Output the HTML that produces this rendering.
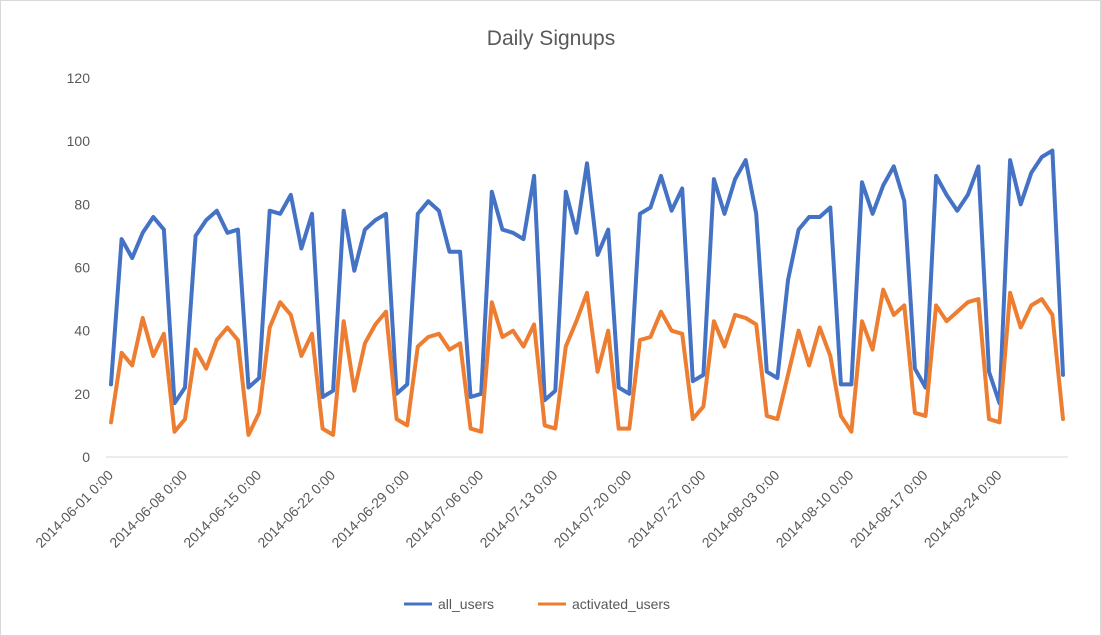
<!DOCTYPE html>
<html><head><meta charset="utf-8"><style>
body{margin:0;background:#fff;}
svg{display:block;font-family:"Liberation Sans",Calibri,sans-serif;}
</style></head><body>
<svg id="chart" width="1101" height="636">
<rect x="0.5" y="0.5" width="1100" height="635" fill="#fff" stroke="#d9d9d9"/>
<text x="551" y="45" text-anchor="middle" font-size="21" fill="#595959">Daily Signups</text>
<g id="grid"></g><g id="xlabels"></g><g id="series"></g>
<g>
<g><line x1="404" y1="604" x2="432" y2="604" stroke="#4472C4" stroke-width="3"/><text x="438" y="609" font-size="14" fill="#595959">all_users</text></g>
<g><line x1="538" y1="604" x2="566" y2="604" stroke="#ED7D31" stroke-width="3"/><text x="572" y="609" font-size="14" fill="#595959">activated_users</text></g>
</g>
</svg>
<script>
const allUsers=[23,69,63,71,76,72,17,22,70,75,78,71,72,22,25,78,77,83,66,77,19,21,78,59,72,75,77,20,23,77,81,78,65,65,19,20,84,72,71,69,89,18,21,84,71,93,64,72,22,20,77,79,89,78,85,24,26,88,77,88,94,77,27,25,56,72,76,76,79,23,23,87,77,86,92,81,28,22,89,83,78,83,92,27,17,94,80,90,95,97,26];
const activatedUsers=[11,33,29,44,32,39,8,12,34,28,37,41,37,7,14,41,49,45,32,39,9,7,43,21,36,42,46,12,10,35,38,39,34,36,9,8,49,38,40,35,42,10,9,35,43,52,27,40,9,9,37,38,46,40,39,12,16,43,35,45,44,42,13,12,26,40,29,41,32,13,8,43,34,53,45,48,14,13,48,43,46,49,50,12,11,52,41,48,50,45,12];
const yTicks=[0,20,40,60,80,100,120];
const xTickLabels=["2014-06-01 0:00","2014-06-08 0:00","2014-06-15 0:00","2014-06-22 0:00","2014-06-29 0:00","2014-07-06 0:00","2014-07-13 0:00","2014-07-20 0:00","2014-07-27 0:00","2014-08-03 0:00","2014-08-10 0:00","2014-08-17 0:00","2014-08-24 0:00"];
const NS="http://www.w3.org/2000/svg";
const x0=111,x1=1063,yb=457,yt=78;
const n=allUsers.length;
function xs(i){return x0+i*(x1-x0)/(n-1);}
function ys(v){return yb-(v/120)*(yb-yt);}
function mk(tag,attrs,parent){const e=document.createElementNS(NS,tag);for(const k in attrs)e.setAttribute(k,attrs[k]);parent.appendChild(e);return e;}
const grid=document.getElementById('grid');
const ax=mk('line',{x1:106,x2:1068,y1:yb,y2:yb,stroke:'#d9d9d9','stroke-width':1},grid);


yTicks.forEach(t=>{
  const tx=mk('text',{x:90,y:ys(t)+5,'text-anchor':'end','font-size':14,fill:'#595959'},grid);
  tx.textContent=t;
  
  
});
const xl=document.getElementById('xlabels');
xTickLabels.forEach((lab,k)=>{
  const x=xs(k*7)+3,y=476;
  const tx=mk('text',{x:x,y:y,'text-anchor':'end','font-size':14,fill:'#595959',transform:`rotate(-45 ${x} ${y})`},xl);
  tx.textContent=lab;
  
  
});
const sg=document.getElementById('series');
[[allUsers,'#4472C4','all-users-line'],[activatedUsers,'#ED7D31','activated-users-line']].forEach(([d,c,nm])=>{
  const p=mk('polyline',{points:d.map((v,i)=>xs(i).toFixed(1)+','+ys(v).toFixed(1)).join(' '),fill:'none',stroke:c,'stroke-width':4,'stroke-linejoin':'round','stroke-linecap':'round'},sg);
  
  
});
</script>
</body></html>
